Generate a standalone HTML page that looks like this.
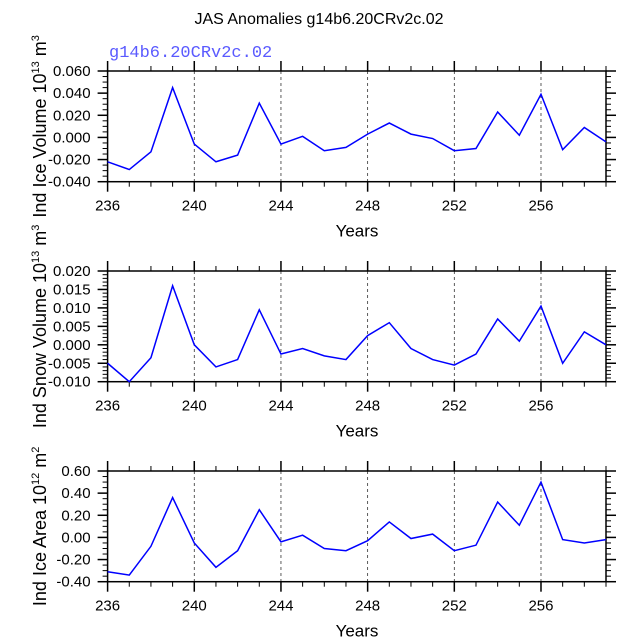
<!DOCTYPE html>
<html><head><meta charset="utf-8"><style>body{margin:0;background:#fff}svg{display:block;font-family:"Liberation Sans",sans-serif}</style></head>
<body>
<svg id="chart" width="638" height="638" xmlns="http://www.w3.org/2000/svg">
<text x="319" y="24" font-size="16" text-anchor="middle">JAS Anomalies g14b6.20CRv2c.02</text>
<text x="109" y="57" font-size="17" fill="#5a5aff" font-family="Liberation Mono, monospace">g14b6.20CRv2c.02</text>
</svg>
<script>
const years = [236,237,238,239,240,241,242,243,244,245,246,247,248,249,250,251,252,253,254,255,256,257,258,259];
const iceVolume = [-0.022,-0.029,-0.013,0.045,-0.006,-0.022,-0.016,0.031,-0.006,0.001,-0.012,-0.009,0.003,0.013,0.003,-0.001,-0.012,-0.010,0.023,0.002,0.039,-0.011,0.009,-0.004];
const snowVolume = [-0.005,-0.010,-0.0035,0.016,0.0,-0.006,-0.004,0.0095,-0.0025,-0.001,-0.003,-0.004,0.0025,0.006,-0.001,-0.004,-0.0055,-0.0025,0.007,0.001,0.0105,-0.005,0.0035,0.0];
const iceArea = [-0.31,-0.34,-0.08,0.36,-0.05,-0.27,-0.12,0.25,-0.04,0.02,-0.10,-0.12,-0.03,0.14,-0.01,0.03,-0.12,-0.07,0.32,0.11,0.50,-0.02,-0.05,-0.02];
const xTicks = [236,240,244,248,252,256];
const iceVolTicks = [-0.04,-0.02,0,0.02,0.04,0.06];
const snowTicks = [-0.010,-0.005,0,0.005,0.010,0.015,0.020];
const areaTicks = [-0.4,-0.2,0,0.2,0.4,0.6];

const svg = document.getElementById('chart');
const NS = 'http://www.w3.org/2000/svg';
function mk(tag, attrs, parent){const e=document.createElementNS(NS,tag);for(const k in attrs)e.setAttribute(k,attrs[k]);(parent||svg).appendChild(e);return e;}
const L=107.6,R=606,X0=236,X1=259;
const xs=v=>L+(v-X0)/(X1-X0)*(R-L);

function panel(name, top, bot, vals, ticks, ymin, ymax, minorStep, dec, ylab, sup, unit){
  const g=mk('g',{});
  
  
  const ys=v=>bot-(v-ymin)/(ymax-ymin)*(bot-top);
  xTicks.forEach(t=>{ if(t>X0){const l=mk('line',{x1:xs(t),x2:xs(t),y1:top,y2:bot,stroke:'#333','stroke-width':0.8,'stroke-dasharray':'3,3'},g);
    }});
  for(let y=X0;y<=X1;y++){const maj=xTicks.includes(y);const len=maj?10:5;
    mk('line',{x1:xs(y),x2:xs(y),y1:bot,y2:bot+len,stroke:'#000','stroke-width':maj?1.5:1},g);
    mk('line',{x1:xs(y),x2:xs(y),y1:top,y2:top-len,stroke:'#000','stroke-width':maj?1.5:1},g);}
  xTicks.forEach(t=>{const tx=mk('text',{x:xs(t),y:bot+29,'font-size':15,'text-anchor':'middle'},g);tx.textContent=t;
    });
  const n=Math.round((ymax-ymin)/minorStep);
  for(let i=0;i<=n;i++){const v=ymin+i*minorStep;const maj=ticks.some(t=>Math.abs(t-v)<1e-9);const len=maj?10:5;
    mk('line',{x1:L,x2:L-len,y1:ys(v),y2:ys(v),stroke:'#000','stroke-width':maj?1.5:1},g);
    mk('line',{x1:R,x2:R+len,y1:ys(v),y2:ys(v),stroke:'#000','stroke-width':maj?1.5:1},g);}
  ticks.forEach(t=>{const tx=mk('text',{x:L-17,y:ys(t)+5,'font-size':15,'text-anchor':'end'},g);tx.textContent=t.toFixed(dec);
    });
  mk('rect',{x:L,y:top,width:R-L,height:bot-top,fill:'none',stroke:'#000','stroke-width':1.5},g);
  const pts=vals.map((v,i)=>xs(years[i])+','+ys(v)).join(' ');
  const pl=mk('polyline',{points:pts,fill:'none',stroke:'#0000ff','stroke-width':1.5},g);
  
  
  const xt=mk('text',{x:357,y:bot+55,'font-size':17,'text-anchor':'middle'},g);xt.textContent='Years';
  
  const cy=(top+bot)/2;
  const yt=mk('text',{x:0,y:0,'font-size':18,'text-anchor':'middle',transform:`translate(46,${cy}) rotate(-90)`},g);
  
  const a=mk('tspan',{},yt);a.textContent=ylab+' 10';
  const b=mk('tspan',{dy:-7,'font-size':11},yt);b.textContent=sup;
  const c=mk('tspan',{dy:7},yt);c.textContent=' m';
  const d=mk('tspan',{dy:-7,'font-size':11},yt);d.textContent=unit;
}
panel('ice-volume',71,181.7,iceVolume,iceVolTicks,-0.04,0.06,0.005,3,'Ind Ice Volume','13','3');
panel('snow-volume',271,381.7,snowVolume,snowTicks,-0.010,0.020,0.001,3,'Ind Snow Volume','13','3');
panel('ice-area',471,581.7,iceArea,areaTicks,-0.4,0.6,0.05,2,'Ind Ice Area','12','2');
</script>
</body></html>
